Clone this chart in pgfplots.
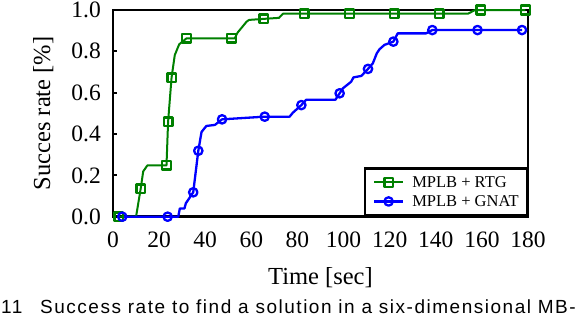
\documentclass[border=0pt]{standalone}
\usepackage{pgfplots}
\pgfplotsset{compat=1.18}
\usepackage{fontspec}
\setmainfont{Liberation Serif}
\newfontfamily\capfont[LetterSpace=8]{Liberation Sans}
\definecolor{rtg}{RGB}{0,128,0}
\definecolor{gnat}{RGB}{0,0,255}
\begin{document}
\begin{tikzpicture}
\begin{axis}[
  scale only axis, width=415pt, height=206.7pt,
  xmin=0, xmax=180, ymin=0, ymax=1,
  xtick={0,20,40,60,80,100,120,140,160,180},
  ytick={0,0.2,0.4,0.6,0.8,1},
  /pgf/number format/assume math mode=true,
  tick label style={font=\fontsize{23.5}{23.5}\selectfont},
  yticklabel style={/pgf/number format/fixed, /pgf/number format/fixed zerofill, /pgf/number format/precision=1, inner sep=0pt, anchor=east, xshift=-12pt},
  xticklabel style={inner sep=0pt, anchor=north, yshift=-15pt},
  xtick style={draw=none},
  ytick pos=left, tick align=inside,
  major tick length=4pt,
  ytick style={line width=2pt, black},
  axis line style={line width=2.8pt},
  clip=false,
  xlabel={Time [sec]},
  xlabel style={at={(axis description cs:0.5,0)}, anchor=base, yshift=-68pt, font=\fontsize{24.5}{24.5}\selectfont},
  ylabel={Succes rate [\%]},
  ylabel style={at={(axis description cs:-0.1518,0.5)}, anchor=base, font=\fontsize{24.5}{24.5}\selectfont},
  legend cell align=left,
  legend style={at={(1,0)}, anchor=south east, draw=black, line width=2.5pt,
    inner xsep=8pt, inner ysep=8.5pt, font=\fontsize{16.5}{16.5}\selectfont,
    row sep=8pt, nodes={inner sep=0pt, text height=11pt, text depth=0pt},
    /tikz/every odd column/.append style={column sep=8pt}},
  legend image code/.code={\draw[mark indices={2}] plot coordinates {(0pt,0pt) (14.5pt,0pt) (29pt,0pt)};},
]
\addplot[color=rtg, line width=2pt, line join=round, mark=square, mark size=4.3pt,
  mark options={line width=2.5pt, solid},
  mark indices={1,3,6,7,8,11,12,17,20,21,22,23,26,27}] coordinates {
(2.5,0) (10,0) (12.0,0.135) (13.1,0.219) (14.9,0.248) (23.2,0.248) (23.9,0.46)
(25.4,0.673) (26.8,0.782) (28.7,0.834) (31.9,0.863) (51.4,0.863) (52.8,0.863)
(54,0.89) (57.9,0.943) (59,0.952) (65.3,0.957) (72,0.962) (73.7,0.982)
(83,0.982) (102.6,0.982) (122,0.982) (141.5,0.982) (154,0.982) (157,1.0)
(159.5,1.0) (178.9,1.0)
};
\addlegendentry{MPLB + RTG}
\addplot[color=gnat, line width=2.3pt, line join=round, mark=o, mark size=4.2pt,
  mark options={line width=2.3pt, solid},
  mark indices={1,2,7,8,12,13,16,19,24,29,32,33,34}] coordinates {
(4.0,0) (23.7,0) (28.3,0) (29.0,0.04) (31.0,0.04) (31.6,0.065) (34.8,0.118)
(37.0,0.319) (38.4,0.41) (40.5,0.439) (44.2,0.444) (47.3,0.471) (65.8,0.484)
(76.6,0.484) (78.0,0.503) (81.7,0.54) (83.8,0.566) (96.5,0.566) (98.3,0.597)
(99.7,0.621) (103.3,0.653) (104.3,0.674) (107.7,0.681) (110.6,0.715)
(112.7,0.742) (114.4,0.79) (115.6,0.81) (117.7,0.831) (121.6,0.847)
(123.5,0.887) (135.8,0.887) (138.5,0.903) (158.1,0.903) (177.4,0.903)
};
\addlegendentry{MPLB + GNAT}
\end{axis}
\node[anchor=base west, inner sep=0pt, font=\capfont\fontsize{19}{19}\selectfont] at (-112pt,-96.3pt) {11};
\node[anchor=base west, inner sep=0pt, font=\capfont\fontsize{19}{19}\selectfont] at (-73pt,-96.3pt) {Success rate to find a solution in a six-dimensional MB-};
\pgfresetboundingbox
\useasboundingbox (-113pt,-99.3pt) rectangle (463pt,216.7pt);
\end{tikzpicture}
\end{document}
